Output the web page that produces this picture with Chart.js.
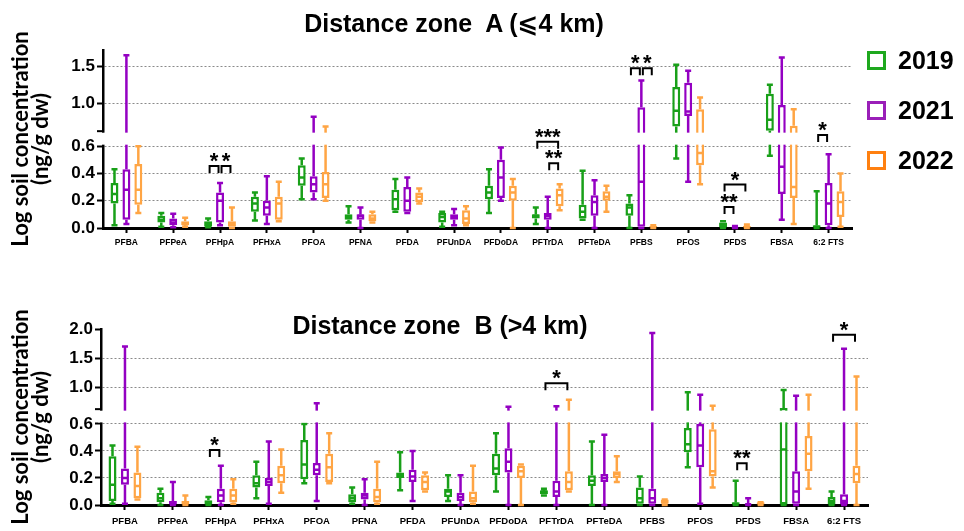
<!DOCTYPE html>
<html>
<head>
<meta charset="utf-8">
<script src="https://cdn.jsdelivr.net/npm/chart.js@4.4.1/dist/chart.umd.min.js"></script>
<style>
  body { margin: 0; background: #fff; width: 964px; height: 531px; position: relative; overflow: hidden;
         font-family: "Liberation Sans", Arial, "DejaVu Sans", sans-serif; }
  .panel { position: absolute; left: 0; }
  .title { position: absolute; font-weight: bold; font-size: 25px; white-space: pre; transform: translate(-50%, -50%); }
  .legend { position: absolute; left: 867px; top: 35px; }
  .legend div { height: 50px; display: flex; align-items: center; font-weight: bold; font-size: 25px; }
  .legend span { display: inline-block; width: 13px; height: 13px; border: 3px solid; margin-right: 12px; }
</style>
</head>
<body>
<div class="panel" style="top:0"><canvas id="chartA" width="964" height="260"></canvas></div>
<div class="panel" style="top:265px"><canvas id="chartB" width="964" height="266"></canvas></div>
<div class="title" style="left:454px;top:23px">Distance zone  A (⩽4 km)</div>
<div class="title" style="left:440px;top:325px">Distance zone  B (&gt;4 km)</div>
<div class="legend">
  <div><span style="border-color:#1ea81e"></span>2019</div>
  <div><span style="border-color:#9a1fb8"></span>2021</div>
  <div><span style="border-color:#ff8010"></span>2022</div>
</div>
<script>
const categories = ['PFBA', 'PFPeA', 'PFHpA', 'PFHxA', 'PFOA', 'PFNA', 'PFDA', 'PFUnDA',
  'PFDoDA', 'PFTrDA', 'PFTeDA', 'PFBS', 'PFOS', 'PFDS', 'FBSA', '6:2 FTS'];
const years = ['2019', '2021', '2022'];
const yearColors = ['#19a019', '#9400c2', '#ffa544'];

// each row: [min, q1, median, q3, max]
const zoneA2019 = [
  [0.02, 0.18, 0.25, 0.33, 0.43], [0.01, 0.04, 0.06, 0.09, 0.11], [0.005, 0.01, 0.03, 0.05, 0.07],
  [0.055, 0.12, 0.18, 0.23, 0.26], [0.21, 0.31, 0.37, 0.46, 0.51], [0.04, 0.06, 0.08, 0.10, 0.16],
  [0.12, 0.13, 0.21, 0.28, 0.36], [0.01, 0.04, 0.08, 0.11, 0.12], [0.11, 0.21, 0.26, 0.31, 0.43],
  [0.03, 0.07, 0.09, 0.10, 0.15], [0.06, 0.07, 0.12, 0.17, 0.42], [0.0, 0.09, 0.15, 0.18, 0.24],
  [0.51, 0.69, 0.90, 1.22, 1.52], [0.0, 0.0, 0.02, 0.04, 0.05], [0.53, 0.63, 0.78, 1.13, 1.25],
  [0.0, 0.0, 0.01, 0.02, 0.27]
];
const zoneA2021 = [
  [0.03, 0.06, 0.28, 0.43, 1.65], [0.005, 0.02, 0.04, 0.07, 0.105], [0.02, 0.04, 0.20, 0.26, 0.33],
  [0.03, 0.09, 0.15, 0.20, 0.38], [0.21, 0.26, 0.32, 0.38, 0.82], [0.0, 0.06, 0.09, 0.10, 0.15],
  [0.11, 0.12, 0.20, 0.30, 0.37], [0.02, 0.06, 0.08, 0.10, 0.14], [0.20, 0.22, 0.37, 0.50, 0.59],
  [0.0, 0.06, 0.09, 0.11, 0.23], [0.0, 0.09, 0.19, 0.24, 0.35], [0.0, 0.01, 0.34, 0.95, 1.31],
  [0.34, 0.83, 0.89, 1.28, 1.44], [0.0, 0.0, 0.005, 0.01, 0.015], [0.06, 0.25, 0.45, 0.98, 1.62],
  [0.0, 0.02, 0.18, 0.33, 0.54]
];
const zoneA2022 = [
  [0.11, 0.17, 0.28, 0.47, 0.60], [0.01, 0.02, 0.03, 0.05, 0.075], [0.0, 0.01, 0.03, 0.05, 0.15],
  [0.05, 0.06, 0.18, 0.23, 0.34], [0.20, 0.22, 0.32, 0.41, 0.69], [0.04, 0.05, 0.07, 0.10, 0.12],
  [0.18, 0.19, 0.23, 0.26, 0.29], [0.02, 0.03, 0.07, 0.13, 0.16], [0.0, 0.20, 0.26, 0.31, 0.36],
  [0.13, 0.16, 0.24, 0.29, 0.32], [0.12, 0.20, 0.23, 0.27, 0.31], [0.0, 0.005, 0.01, 0.015, 0.02],
  [0.32, 0.46, 0.55, 0.92, 1.08], [0.0, 0.0, 0.01, 0.015, 0.025], [0.03, 0.22, 0.30, 0.70, 0.92],
  [0.01, 0.08, 0.19, 0.27, 0.40]
];

const zoneB2019 = [
  [0.01, 0.03, 0.15, 0.36, 0.44], [0.0, 0.02, 0.05, 0.09, 0.12], [0.0, 0.0, 0.02, 0.035, 0.06],
  [0.05, 0.13, 0.16, 0.22, 0.32], [0.16, 0.19, 0.30, 0.48, 0.60], [0.01, 0.02, 0.05, 0.08, 0.13],
  [0.11, 0.20, 0.22, 0.24, 0.39], [0.03, 0.06, 0.10, 0.12, 0.22], [0.10, 0.22, 0.27, 0.38, 0.53],
  [0.07, 0.08, 0.10, 0.11, 0.12], [0.0, 0.14, 0.18, 0.22, 0.47], [0.0, 0.01, 0.05, 0.13, 0.21],
  [0.28, 0.39, 0.45, 0.57, 0.91], [0.0, 0.0, 0.01, 0.02, 0.18], [0.0, 0.0, 0.41, 0.64, 0.95],
  [0.0, 0.0, 0.03, 0.06, 0.10]
];
const zoneB2021 = [
  [0.01, 0.15, 0.20, 0.27, 1.70], [0.0, 0.0, 0.01, 0.03, 0.17], [0.0, 0.02, 0.07, 0.12, 0.29],
  [0.01, 0.14, 0.17, 0.20, 0.47], [0.03, 0.22, 0.26, 0.31, 0.72], [0.0, 0.04, 0.07, 0.09, 0.19],
  [0.03, 0.17, 0.21, 0.26, 0.40], [0.0, 0.03, 0.06, 0.09, 0.22], [0.0, 0.24, 0.32, 0.42, 0.66],
  [0.0, 0.06, 0.10, 0.18, 0.67], [0.0, 0.17, 0.20, 0.23, 0.52], [0.0, 0.01, 0.05, 0.12, 1.93],
  [0.01, 0.28, 0.44, 0.60, 0.87], [0.0, 0.0, 0.005, 0.01, 0.05], [0.0, 0.01, 0.10, 0.25, 0.85],
  [0.0, 0.0, 0.03, 0.08, 1.66]
];
const zoneB2022 = [
  [0.04, 0.05, 0.14, 0.24, 0.43], [0.0, 0.0, 0.02, 0.03, 0.07], [0.01, 0.02, 0.07, 0.12, 0.19],
  [0.09, 0.16, 0.22, 0.29, 0.41], [0.16, 0.17, 0.28, 0.38, 0.53], [0.01, 0.02, 0.06, 0.12, 0.32],
  [0.10, 0.11, 0.17, 0.22, 0.24], [0.01, 0.02, 0.05, 0.10, 0.29], [0.0, 0.20, 0.25, 0.29, 0.30],
  [0.10, 0.11, 0.17, 0.25, 0.78], [0.17, 0.20, 0.23, 0.25, 0.36], [0.0, 0.01, 0.02, 0.04, 0.04],
  [0.13, 0.21, 0.25, 0.56, 0.68], [0.0, 0.0, 0.01, 0.02, 0.02], [0.12, 0.25, 0.38, 0.51, 0.87],
  [0.0, 0.16, 0.23, 0.29, 1.18]
];

const zoneATicks = [0, 0.2, 0.4, 0.6, 1.0, 1.5];
const zoneATickLabels = ['0.0', '0.2', '0.4', '0.6', '1.0', '1.5'];
const zoneBTicks = [0, 0.2, 0.4, 0.6, 1.0, 1.5, 2.0];
const zoneBTickLabels = ['0.0', '0.2', '0.4', '0.6', '1.0', '1.5', '2.0'];

// significance marks: [compound index, year a, year b, stars]
const zoneAStars = [[2, 0, 1, '*'], [2, 1, 2, '*'], [9, 0, 2, '***'], [9, 1, 2, '**'],
  [11, 0, 1, '*'], [11, 1, 2, '*'], [13, 0, 1, '**'], [13, 0, 2, '*'], [15, 0, 1, '*']];
const zoneBStars = [[2, 0, 1, '*'], [9, 0, 2, '*'], [13, 0, 1, '**'], [15, 0, 2, '*']];
// bracket heights, in axis units
const zoneAStarLevels = [0.454, 0.454, 0.632, 0.474, 1.172, 1.172, 0.154, 0.319, 0.682];
const zoneBStarLevels = [0.407, 0.901, 0.309, 1.259];

// broken axis: 0-0.6 linear, gap, then a compressed upper part
function makeBreak(upStart, gap, ratio) {
  const lowTop = 0.6;
  const map = v => v <= lowTop ? v
    : v < upStart ? lowTop + (v - lowTop) / (upStart - lowTop) * gap
    : lowTop + gap + (v - upStart) * ratio;
  return { map, lowTop, gapTop: lowTop + gap };
}

function boxPlugin(brk, stars, levels) {
  return {
    id: 'boxes',
    afterDatasetsDraw(chart) {
      const ctx = chart.ctx, ys = chart.scales.y, area = chart.chartArea;
      const p = v => ys.getPixelForValue(brk.map(v));
      ctx.save();
      ctx.lineWidth = 2.5;
      chart.data.datasets.forEach((ds, k) => {
        ctx.strokeStyle = ds.borderColor;
        chart.getDatasetMeta(k).data.forEach((bar, i) => {
          const s = ds.stats[i], x = bar.x, half = bar.width / 2;
          ctx.beginPath();
          ctx.moveTo(x, p(s[0])); ctx.lineTo(x, p(s[1]));
          ctx.moveTo(x, p(s[3])); ctx.lineTo(x, p(s[4]));
          ctx.moveTo(x - 3, p(s[0])); ctx.lineTo(x + 3, p(s[0]));
          ctx.moveTo(x - 3, p(s[4])); ctx.lineTo(x + 3, p(s[4]));
          ctx.moveTo(x - half + 1, p(s[2])); ctx.lineTo(x + half - 1, p(s[2]));
          ctx.stroke();
        });
      });
      // gap of the broken axis
      const y0 = ys.getPixelForValue(brk.lowTop), y1 = ys.getPixelForValue(brk.gapTop);
      ctx.fillStyle = '#fff';
      ctx.fillRect(area.left - 3, y1 + 1.5, area.right - area.left + 4, y0 - y1 - 3);
      ctx.strokeStyle = '#000';
      ctx.lineWidth = 2;
      ctx.beginPath();
      ctx.moveTo(area.left - 6, y1); ctx.lineTo(area.left + 1, y1);
      ctx.stroke();
      // significance brackets
      ctx.fillStyle = '#000';
      ctx.font = 'bold 22px "Liberation Sans", Arial';
      ctx.textAlign = 'center';
      ctx.textBaseline = 'middle';
      stars.forEach((st, j) => {
        const xa = chart.getDatasetMeta(st[1]).data[st[0]].x + 1.5;
        const xb = chart.getDatasetMeta(st[2]).data[st[0]].x - 1.5;
        const y = ys.getPixelForValue(levels[j]);
        ctx.beginPath();
        ctx.moveTo(xa, y + 7); ctx.lineTo(xa, y); ctx.lineTo(xb, y); ctx.lineTo(xb, y + 7);
        ctx.stroke();
        ctx.fillText(st[3], (xa + xb) / 2, y - 4);
      });
      ctx.restore();
    }
  };
}

function drawPanel(id, rowsByYear, brk, yMaxValue, ticks, tickLabels, stars, levels, lay) {
  const datasets = rowsByYear.map((rows, k) => ({
    label: years[k],
    data: rows.map(r => [brk.map(r[1]), brk.map(r[3])]),
    stats: rows,
    borderColor: yearColors[k],
    backgroundColor: '#fff',
    borderWidth: 2.5,
    borderSkipped: false,
    categoryPercentage: lay.catPct,
    barPercentage: lay.barPct
  }));
  const yMax = brk.map(yMaxValue);
  new Chart(document.getElementById(id), {
    type: 'bar',
    data: { labels: categories, datasets },
    options: {
      responsive: false,
      animation: false,
      events: [],
      layout: { padding: { top: lay.top, right: lay.right, left: 0, bottom: 0 } },
      plugins: { legend: { display: false }, tooltip: { enabled: false } },
      scales: {
        x: {
          afterFit(scale) { scale.height = lay.xHeight; },
          grid: { drawOnChartArea: false, offset: false, tickLength: 5, tickWidth: 2, tickColor: '#000' },
          border: { color: '#000', width: 3 },
          ticks: { autoSkip: false, maxRotation: 0, padding: lay.xPad, color: '#000',
                   font: { family: '"Liberation Sans", Arial', weight: 'bold', size: lay.xFont } }
        },
        y: {
          min: 0, max: yMax,
          afterFit(scale) { scale.width = lay.left; },
          afterBuildTicks(scale) { scale.ticks = ticks.map(v => ({ value: brk.map(v) })); },
          grid: {
            color: c => (c.tick && (c.tick.value === 0 || Math.abs(c.tick.value - yMax) < 1e-6)) ? 'rgba(0,0,0,0)' : '#8a8a8a',
            lineWidth: 1, tickLength: 6, tickWidth: 2, tickColor: '#000'
          },
          border: { color: '#000', width: 2.5, dash: [2, 2] },
          ticks: { padding: 2, color: '#000', callback: (v, i) => tickLabels[i],
                   font: { family: '"Liberation Sans", Arial', weight: 'bold', size: 17 } },
          title: {
            display: true, text: ['Log soil concentration', '(ng/g dw)'], color: '#000',
            padding: { top: 11, bottom: 0 },
            font: { family: 'Lato, "Liberation Sans"', weight: 'bold', size: 22, lineHeight: 0.9 }
          }
        }
      }
    },
    plugins: [boxPlugin(brk, stars, levels)]
  });
}

const breakA = makeBreak(0.626, 0.110, 0.544);
const breakB = makeBreak(0.62, 0.109, 0.4296);

drawPanel('chartA', [zoneA2019, zoneA2021, zoneA2022], breakA, 1.72, zoneATicks, zoneATickLabels,
  zoneAStars, zoneAStarLevels,
  { top: 50, right: 112, left: 103, xHeight: 32, xPad: 5, xFont: 8.5, catPct: 0.764, barPct: 0.667 });
drawPanel('chartB', [zoneB2019, zoneB2021, zoneB2022], breakB, 2.0, zoneBTicks, zoneBTickLabels,
  zoneBStars, zoneBStarLevels,
  { top: 64, right: 96, left: 101, xHeight: 26, xPad: 6, xFont: 9.5, catPct: 0.78, barPct: 0.64 });
</script>
</body>
</html>
